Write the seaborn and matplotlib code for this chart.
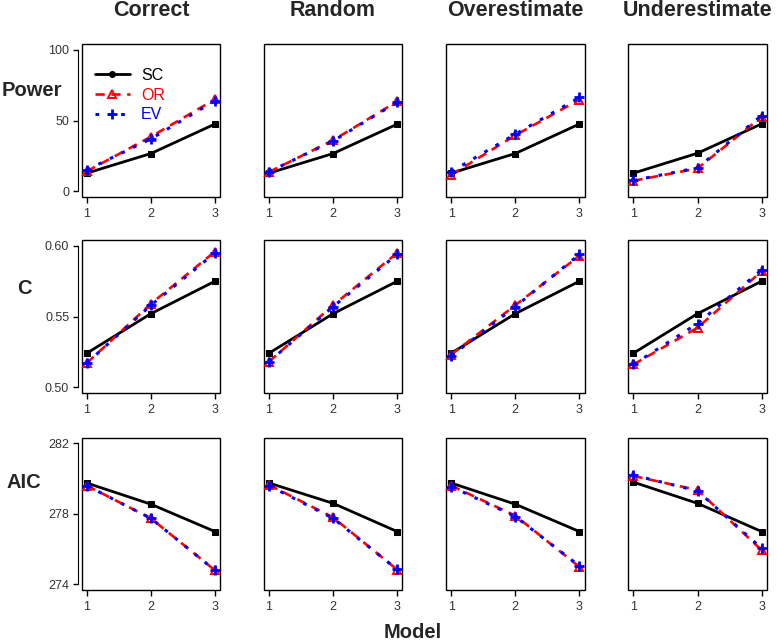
import matplotlib
matplotlib.use("Agg")
import matplotlib.pyplot as plt
import seaborn as sns
from matplotlib.lines import Line2D
from matplotlib.patches import Rectangle

sns.set_style("white")
plt.rcParams['font.family'] = ['Liberation Sans', 'DejaVu Sans']

# data
models = [1, 2, 3]
scenarios = ["Correct", "Random", "Overestimate", "Underestimate"]
methods = ["SC", "OR", "EV"]
row_labels = ["Power", "C", "AIC"]

power_sc = [[12.7, 26.6, 47.5], [12.7, 26.6, 47.4], [12.7, 26.6, 47.5], [12.7, 26.8, 47.6]]
power_or = [[14.0, 38.5, 65.0], [13.5, 36.0, 63.5], [11.5, 39.5, 64.8], [7.3, 16.0, 52.5]]
power_ev = [[15.0, 37.0, 64.0], [13.7, 35.5, 63.0], [13.7, 40.3, 66.3], [7.5, 16.5, 53.5]]

c_sc = [[0.524, 0.552, 0.575], [0.524, 0.552, 0.575], [0.524, 0.552, 0.575], [0.524, 0.552, 0.575]]
c_or = [[0.517, 0.559, 0.596], [0.518, 0.558, 0.595], [0.523, 0.558, 0.593], [0.516, 0.542, 0.582]]
c_ev = [[0.517, 0.558, 0.595], [0.518, 0.557, 0.594], [0.522, 0.557, 0.594], [0.516, 0.545, 0.583]]

aic_sc = [[279.75, 278.55, 277.0], [279.75, 278.6, 277.0], [279.75, 278.55, 277.0], [279.8, 278.6, 277.0]]
aic_or = [[279.6, 277.75, 274.8], [279.64, 277.8, 274.84], [279.6, 277.9, 275.0], [280.15, 279.35, 275.95]]
aic_ev = [[279.6, 277.75, 274.8], [279.6, 277.75, 274.85], [279.55, 277.85, 275.05], [280.2, 279.3, 276.05]]

y_ticks = [[0, 50, 100], [0.50, 0.55, 0.60], [274, 278, 282]]
y_tick_labels = [["0", "50", "100"], ["0.50", "0.55", "0.60"], ["274", "278", "282"]]

rows = [
    (power_sc, power_or, power_ev),
    (c_sc, c_or, c_ev),
    (aic_sc, aic_or, aic_ev),
]

styles = {
    "SC": dict(color="black", linestyle="-", linewidth=2.0, marker="s", markersize=4,
               markeredgecolor="black"),
    "OR": dict(color="red", linestyle=(0, (3.5, 2.5)), linewidth=1.9, marker="^", markersize=5.5,
               markerfacecolor="none", markeredgecolor="red", markeredgewidth=1.4),
    "EV": dict(color="blue", linestyle=(0, (1.2, 3.0)), linewidth=2.2, marker="+", markersize=7,
               markeredgecolor="blue", markeredgewidth=2.0),
}

W, H = 778, 641
fig = plt.figure(figsize=(W / 100, H / 100), dpi=100)

lefts = [81.7, 263.9, 446.1, 628.3]
tops = [44.3, 240.3, 437.7]
aw, ah = 138.4, 152.4

for r, (sc_vals, or_vals, ev_vals) in enumerate(rows):
    lo, hi = y_ticks[r][0], y_ticks[r][-1]
    pad = (hi - lo) * 0.04
    for c, scen in enumerate(scenarios):
        ax = fig.add_axes([lefts[c] / W, 1 - (tops[r] + ah) / H, aw / W, ah / H])
        for m, vals in zip(methods, (sc_vals, or_vals, ev_vals)):
            sns.lineplot(x=models, y=vals[c], ax=ax, clip_on=False, **styles[m])
        ax.set_xlim(0.92, 3.08)
        ax.set_ylim(lo - pad, hi + pad)
        ax.set_xlabel("")
        ax.set_ylabel("")
        for s in ax.spines.values():
            s.set_visible(False)
        ax.add_patch(Rectangle((0, 0), 1, 1, transform=ax.transAxes, fill=False,
                               edgecolor="black", linewidth=1.0, clip_on=False))
        ax.set_xticks(models)
        ax.set_xticklabels([str(m) for m in models])
        ax.tick_params(axis="x", bottom=True, length=4, width=1, pad=4,
                       labelsize=9, labelcolor="#333333", color="black")
        if c == 0:
            ax.spines["left"].set_visible(True)
            ax.spines["left"].set_position(("outward", 3))
            ax.spines["left"].set_bounds(lo, hi)
            ax.spines["left"].set_color("black")
            ax.set_yticks(y_ticks[r])
            ax.set_yticklabels(y_tick_labels[r])
            ax.tick_params(axis="y", left=True, length=3.5, width=1, pad=2.5,
                           labelsize=9, labelcolor="#333333", color="black")
        else:
            ax.set_yticks([])
        if ax.get_legend() is not None:
            ax.get_legend().remove()
        if r == 0 and c == 0:
            handles = [Line2D([], [], **{**styles[m], "marker": "o" if m == "SC" else styles[m]["marker"]})
                       for m in methods]
            ax.legend(handles, methods, loc="upper left", bbox_to_anchor=(-0.01, 0.94),
                      frameon=False, fontsize=11.5, handlelength=2.2, labelspacing=0.3,
                      handletextpad=0.7, labelcolor=["black", "red", "blue"])
        if r == 0:
            fig.text((lefts[c] + aw / 2) / W, 1 - 11 / H, scen, ha="center", va="center",
                     fontsize=15.5, fontweight="bold")

label_pos = [(32, 91), (24, 288), (24, 483)]
for lab, (x, y) in zip(row_labels, label_pos):
    fig.text(x / W, 1 - y / H, lab, ha="center", va="center", fontsize=14.5, fontweight="bold")

fig.text(413 / W, 1 - 633 / H, "Model", ha="center", va="center", fontsize=14.5, fontweight="bold")

fig.savefig("out.png", dpi=100)
